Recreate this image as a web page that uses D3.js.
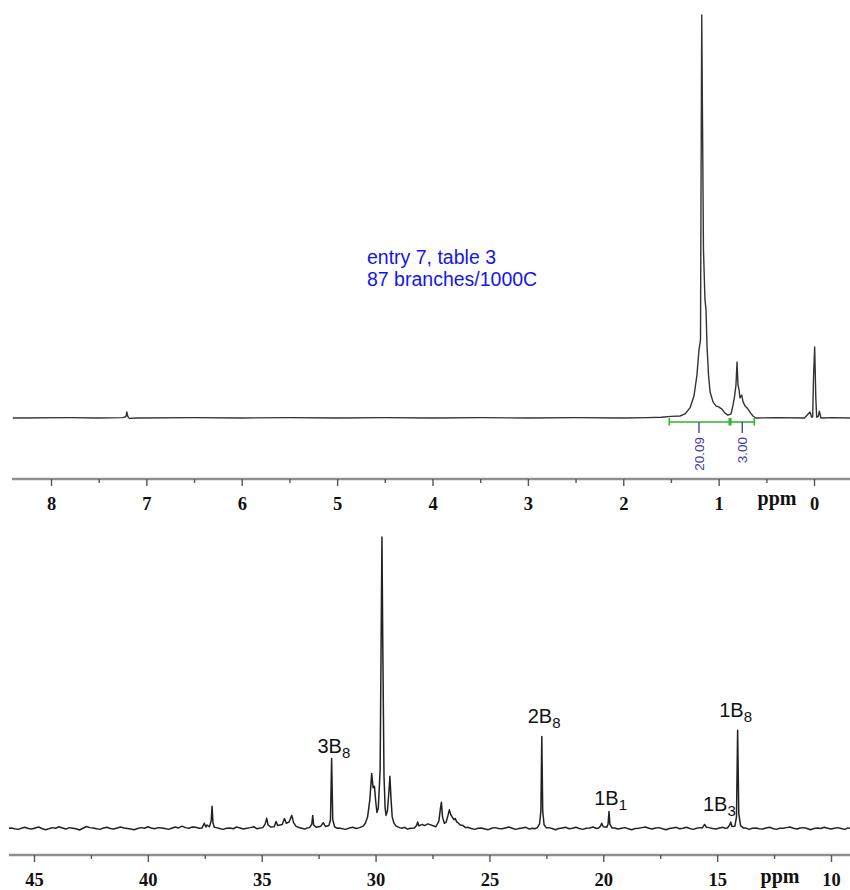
<!DOCTYPE html>
<html>
<head>
<meta charset="utf-8">
<script src="https://cdn.jsdelivr.net/npm/d3@7"></script>
<style>
html,body{margin:0;padding:0;background:#fff;}
svg{display:block;}
</style>
</head>
<body>
<svg id="chart" width="850" height="890"></svg>
<script>
// ---------------- DATA ----------------
// 1H spectrum (ppm, relative intensity; baseline = 0, tallest peak = 100)
const hSpectrum = [
  [8.40,0],[7.80,0.1],[7.50,0],[7.25,0.1],[7.215,0.3],[7.205,1.5],[7.195,0.4],[7.18,-0.1],[7.10,0],
  [6.50,0.1],[6.00,0],[5.50,0.1],[5.00,0],[4.50,0.1],[4.00,0],[3.50,0.1],[3.00,0],[2.50,0.1],[2.00,0],
  [1.75,0.1],[1.60,0.2],[1.50,0.4],[1.405,0.5],[1.353,1],[1.30,2.5],[1.258,5.5],[1.227,10.7],[1.206,16.9],
  [1.19,19.4],[1.185,54],[1.177,100],[1.169,74],[1.159,41.7],[1.143,29.3],[1.132,26.8],[1.122,18],
  [1.106,10.7],[1.09,6.5],[1.059,4],[1.028,3],[0.996,2.7],[0.965,2.2],[0.933,1.2],[0.902,0.7],[0.87,1],
  [0.849,3.2],[0.834,5.2],[0.818,8.2],[0.807,13.9],[0.797,8.2],[0.786,7],[0.776,5],[0.758,5.7],
  [0.744,4],[0.723,3],[0.702,2.5],[0.664,1.2],[0.64,0.5],[0.608,0],[0.40,0.1],[0.10,0],
  [0.042,1.5],[0.025,0.2],[0.014,0.3],[0.005,10],[-0.007,17.6],[-0.019,5],[-0.028,0.2],
  [-0.045,0.4],[-0.056,1.7],[-0.073,0],[-0.20,0.1],[-0.377,0]
];
// 1H integrals
const integFrom  = [1.517, 0.873];
const integTo    = [0.888, 0.626];
const integPpm   = [1.206, 0.752];
const integValue = ["20.09", "3.00"];

// 13C spectrum baseline noise (ppm, intensity)
const cNoise = [
  [46.1,0.1],[46.0,0.2],[45.85,-0.1],[45.7,-0.3],[45.55,0.1],[45.4,0.4],[45.25,0.0],[45.1,-0.2],[44.95,0.2],
  [44.8,0.5],[44.65,0.0],[44.5,-0.4],[44.35,-0.1],[44.2,0.3],[44.05,0.1],[43.9,0.6],[43.75,0.2],
  [43.6,-0.2],[43.45,0.3],[43.3,0.1],[43.15,-0.1],[43.0,-0.5],[42.85,0.1],[42.7,0.7],[42.55,0.3],
  [42.4,0.2],[42.25,-0.1],[42.1,-0.3],[41.95,0.2],[41.8,0.4],[41.65,0.0],[41.5,-0.2],[41.35,0.2],
  [41.2,0.5],[41.05,0.2],[40.9,0.0],[40.75,-0.2],[40.6,-0.4],[40.45,0.0],[40.3,0.3],[40.15,0.1],
  [40.0,0.6],[39.85,0.2],[39.7,-0.1],[39.55,0.3],[39.4,0.2],[39.25,0.0],[39.1,-0.3],[38.95,0.1],
  [38.8,0.5],[38.65,0.2],[38.5,0.8],[38.35,0.3],[38.2,0.1],[38.05,0.5],[37.9,0.4],[37.75,0.1],
  [37.0,0.3],[36.85,0.0],[36.7,-0.3],[36.55,0.1],[36.4,0.2],[36.25,-0.1],[36.1,0.5],[35.95,0.2],
  [35.8,-0.2],[35.65,0.1],[35.5,0.3],[35.35,0.6],[35.2,-0.1],[35.07,0.2],
  [33.4,0.4],[33.25,0.1],[33.1,-0.2],[33.0,0.2],
  [31.7,0.1],[31.6,0.2],[31.45,-0.1],[31.3,-0.3],[31.15,0.2],[31.0,0.4],[30.85,0.0],
  [28.85,0.1],[28.72,0.4],[28.6,-0.2],[28.45,0.1],
  [25.95,0.4],[25.8,0.0],[25.65,-0.3],[25.5,0.1],[25.35,0.2],[25.2,-0.2],[25.05,-0.4],[24.9,0.1],
  [24.75,0.3],[24.6,0.0],[24.45,-0.1],[24.3,0.2],[24.15,0.5],[24.0,0.1],[23.85,-0.3],[23.7,0.0],
  [23.55,0.2],[23.4,0.4],[23.25,-0.2],[23.1,0.1],[23.0,-0.1],
  [22.4,0.3],[22.25,0.0],[22.1,-0.4],[21.95,0.0],[21.8,0.2],[21.65,0.4],[21.5,-0.1],[21.35,0.1],
  [21.2,0.4],[21.05,0.0],[20.9,-0.3],[20.75,0.1],[20.6,0.2],[20.45,0.5],[20.3,0.0],
  [19.5,0.2],[19.35,-0.2],[19.2,0.1],[19.05,0.3],[18.9,-0.1],[18.75,-0.4],[18.6,0.0],[18.45,0.1],
  [18.3,0.3],[18.15,0.5],[18.0,0.1],[17.85,-0.2],[17.7,0.2],[17.55,0.3],[17.4,-0.1],[17.25,-0.4],
  [17.1,0.0],[16.95,0.2],[16.8,0.4],[16.65,-0.1],[16.5,0.1],[16.35,0.4],[16.2,0.0],[16.05,-0.3],
  [15.9,0.1],[15.75,0.3],
  [15.35,0.3],[15.2,0.0],[15.05,-0.2],[14.9,0.2],[14.75,0.4],[14.65,0.1],
  [13.75,0.2],[13.6,-0.3],[13.45,0.1],[13.3,0.2],[13.15,-0.1],[13.0,-0.2],[12.85,0.2],[12.7,0.4],
  [12.55,0.0],[12.4,-0.3],[12.25,0.1],[12.1,0.1],[11.95,0.3],[11.8,0.5],[11.65,0.1],[11.5,-0.2],
  [11.35,0.2],[11.2,0.3],[11.05,0.0],[10.9,-0.4],[10.75,0.0],[10.6,0.2],[10.45,0.0],[10.3,0.4],
  [10.15,0.1],[10.0,-0.2],[9.85,0.1],[9.7,0.3],[9.55,0.0],[9.4,-0.3],[9.25,0.2],[9.17,0.1]
];
// 13C peak groups (ppm, intensity; tallest = 100)
const cPeaks = [
  [[37.62,0.2],[37.52,1.8],[37.45,0.5],[37.4,1.2],[37.3,0.6],[37.22,2.5],[37.18,7.6],[37.14,2.0],[37.08,0.4]],
  [[34.95,0.3],[34.85,1.5],[34.78,3.5],[34.72,1.2],[34.6,0.5]],
  [[34.45,0.6],[34.37,2.4],[34.3,1.0],[34.1,1.4],[34.0,3.4],[33.92,1.8],[33.8,2.2],[33.68,4.5],[33.6,2.0],[33.5,0.8]],
  [[32.9,0.3],[32.8,1.5],[32.76,4.5],[32.72,1.2],[32.6,0.4],[32.4,0.8],[32.3,2.0],[32.2,0.7],[32.05,1.0],[31.98,3],[31.93,24],[31.88,3],[31.8,0.6]],
  [[30.7,0.3],[30.55,0.8],[30.45,1.8],[30.35,4],[30.25,10],[30.17,18.9],[30.11,14],[30.05,14.5],[29.99,9],[29.94,5.5],[29.88,7],[29.8,20],[29.76,60],[29.72,100],[29.68,60],[29.63,18],[29.58,7],[29.54,4.5],[29.48,6],[29.42,12],[29.37,17.9],[29.32,10],[29.27,4],[29.2,2],[29.1,0.8],[28.95,0.3]],
  [[28.3,0.2],[28.2,1.0],[28.15,2.2],[28.1,0.9],[27.95,1.4],[27.85,1.0],[27.7,1.6]],
  [[27.35,0.6],[27.22,2.5],[27.15,7],[27.11,9],[27.06,4],[26.98,1.8],[26.9,2.2],[26.82,4.5],[26.76,6.4],[26.7,4.8],[26.63,3.9],[26.55,3.0],[26.5,3.4],[26.43,2.2],[26.38,2.0],[26.28,1.2],[26.16,1.0],[26.05,0.3]],
  [[22.9,0.3],[22.8,1.5],[22.74,6],[22.7,31.6],[22.66,6],[22.6,1.3],[22.5,0.2]],
  [[20.2,0.2],[20.12,0.9],[20.07,1.8],[20.0,0.6],[19.85,0.4],[19.79,1.5],[19.75,5.8],[19.71,1.5],[19.62,0.2]],
  [[15.65,0.2],[15.55,1.4],[15.47,0.4]],
  [[14.55,0.2],[14.45,1.2],[14.4,2.2],[14.35,0.7],[14.22,0.8],[14.15,4],[14.1,33.7],[14.05,5],[13.97,1],[13.85,0.2]]
];
// 13C peak labels
const labelMain = ["3B", "2B", "1B", "1B", "1B"];
const labelSub  = ["8", "8", "1", "3", "8"];
const labelPpm  = [31.83, 22.6, 19.68, 14.9, 14.19];
const labelInt  = [26, 36.3, 8.1, 6.0, 38.3];

// axis ticks
const hMajor = [8,7,6,5,4,3,2,1,0];
const hMinor = [7.5,6.5,5.5,4.5,3.5,2.5,1.5,0.5];
const cMajor = [45,40,35,30,25,20,15,10];
const cMinor = [42.5,37.5,32.5,27.5,22.5,17.5,12.5];

const noteLines = ["entry 7, table 3", "87 branches/1000C"];

// ---------------- DRAW ----------------
const svg = d3.select("#chart");

const xH = d3.scaleLinear().domain([8, 0]).range([51, 814]);
const yH = d3.scaleLinear().domain([0, 100]).range([418, 15]);
const xC = d3.scaleLinear().domain([45, 10]).range([34, 831]);
const yC = d3.scaleLinear().domain([0, 100]).range([828.5, 537]);

// --- 1H spectrum
svg.append("path")
  .datum(hSpectrum)
  .attr("fill", "none")
  .attr("stroke", "#333")
  .attr("stroke-width", 1.4)
  .attr("stroke-linejoin", "round")
  .attr("d", d3.line().x(d => xH(d[0])).y(d => yH(d[1])));

// --- integrals
const integY = yH(0) + 4;
const gI = svg.append("g");
integFrom.forEach((f, i) => {
  const x1 = xH(f), x2 = xH(integTo[i]);
  gI.append("line").attr("x1", x1).attr("x2", x2).attr("y1", integY).attr("y2", integY)
    .attr("stroke", "#2fb52f").attr("stroke-width", 1.6);
  [x1, x2].forEach(x => gI.append("line").attr("x1", x).attr("x2", x)
    .attr("y1", integY - 4).attr("y2", integY + 3.5).attr("stroke", "#2fb52f").attr("stroke-width", 1.6));
  const xl = xH(integPpm[i]);
  gI.append("line").attr("x1", xl).attr("x2", xl).attr("y1", integY).attr("y2", integY + 11)
    .attr("stroke", "#4444aa").attr("stroke-width", 1.4);
  gI.append("text")
    .attr("transform", `translate(${xl},${integY + 15}) rotate(-90)`)
    .attr("text-anchor", "end")
    .attr("dy", "0.35em")
    .attr("font-family", "Liberation Sans, Arial, sans-serif")
    .attr("font-size", 13.5)
    .attr("fill", "#3b3ba8")
    .text(integValue[i]);
});

// --- note text
const note = svg.append("text")
  .attr("x", 367).attr("y", 264)
  .attr("font-family", "Liberation Sans, Arial, sans-serif")
  .attr("font-size", 19.5)
  .attr("fill", "#1414f0");
noteLines.forEach((t, i) => note.append("tspan").attr("x", 367).attr("dy", i === 0 ? 0 : 22).text(t));

// --- axis helper
function drawAxis(scale, y, x0, x1, major, minor, ppmX, ppmY) {
  svg.append("line").attr("x1", x0).attr("x2", x1).attr("y1", y).attr("y2", y)
    .attr("stroke", "#8f8f8f").attr("stroke-width", 2.6);
  const gMin = svg.append("g").attr("transform", `translate(0,${y})`)
    .call(d3.axisBottom(scale).tickValues(minor).tickSize(4).tickFormat(""));
  gMin.select(".domain").remove();
  gMin.selectAll("line").attr("stroke", "#555").attr("stroke-width", 1.4);
  const gMaj = svg.append("g").attr("transform", `translate(0,${y})`)
    .call(d3.axisBottom(scale).tickValues(major).tickSize(7).tickPadding(11).tickFormat(d3.format("d")));
  gMaj.select(".domain").remove();
  gMaj.selectAll("line").attr("stroke", "#555").attr("stroke-width", 1.4);
  gMaj.selectAll("text")
    .attr("font-family", "Liberation Serif, Times New Roman, serif")
    .attr("font-weight", "bold")
    .attr("font-size", 18.5)
    .attr("fill", "#111");
  svg.append("text").attr("x", ppmX).attr("y", ppmY)
    .attr("text-anchor", "middle")
    .attr("font-family", "Liberation Serif, Times New Roman, serif")
    .attr("font-weight", "bold")
    .attr("font-size", 20)
    .attr("fill", "#111")
    .text("ppm");
}
drawAxis(xH, 479, 12, 850, hMajor, hMinor, 777, 505);
drawAxis(xC, 855, 9, 850, cMajor, cMinor, 780, 883);

// --- 13C spectrum
const cPts = [];
const ranges = cPeaks.map(g => [d3.min(g, d => d[0]), d3.max(g, d => d[0])]);
cNoise.forEach(p => {
  if (!ranges.some(r => p[0] >= r[0] - 0.02 && p[0] <= r[1] + 0.02)) cPts.push(p);
});
cPeaks.forEach(g => g.forEach(p => cPts.push(p)));
cPts.sort((a, b) => b[0] - a[0]);

svg.append("path")
  .datum(cPts)
  .attr("fill", "none")
  .attr("stroke", "#222")
  .attr("stroke-width", 1.5)
  .attr("stroke-linejoin", "round")
  .attr("d", d3.line().x(d => xC(d[0])).y(d => yC(d[1])));

// --- peak labels
labelMain.forEach((m, i) => {
  const t = svg.append("text")
    .attr("x", xC(labelPpm[i])).attr("y", yC(labelInt[i]))
    .attr("text-anchor", "middle")
    .attr("font-family", "Liberation Sans, Arial, sans-serif")
    .attr("font-size", 20)
    .attr("fill", "#111");
  t.append("tspan").text(m);
  t.append("tspan").attr("font-size", 15).attr("dy", 5).text(labelSub[i]);
});
</script>
</body>
</html>
